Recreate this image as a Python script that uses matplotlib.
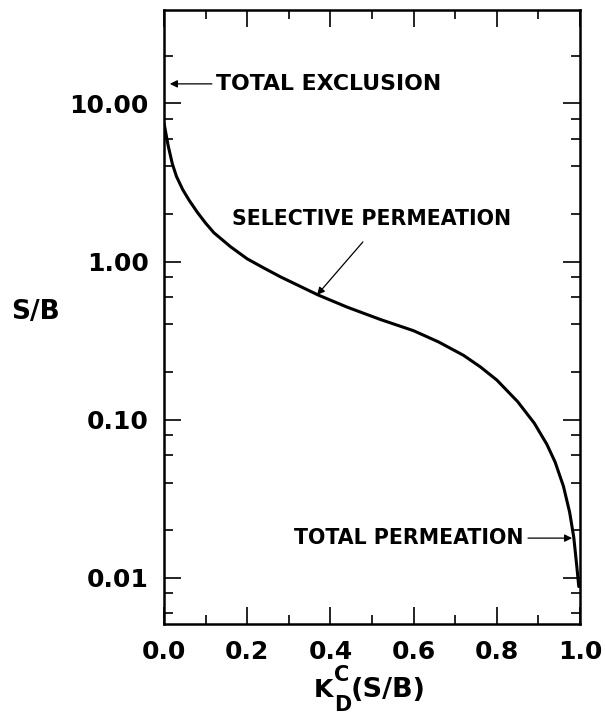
import matplotlib
matplotlib.use("Agg")
import matplotlib.pyplot as plt
from matplotlib.ticker import FixedLocator, FixedFormatter, NullFormatter

# ---- data ----
kd = [0.0, 0.01, 0.02, 0.03, 0.045, 0.06, 0.08, 0.10, 0.12, 0.16, 0.20,
      0.24, 0.28, 0.37, 0.44, 0.52, 0.60, 0.66, 0.72, 0.76, 0.80, 0.85,
      0.89, 0.92, 0.94, 0.96, 0.975, 0.985, 0.992, 0.997]
sb = [7.5, 5.4, 4.15, 3.45, 2.85, 2.45, 2.05, 1.75, 1.52, 1.24, 1.04,
      0.91, 0.80, 0.615, 0.515, 0.43, 0.365, 0.31, 0.255, 0.216, 0.178, 0.13,
      0.095, 0.070, 0.054, 0.038, 0.026, 0.018, 0.012, 0.0088]

x_major = [0.0, 0.2, 0.4, 0.6, 0.8, 1.0]
x_major_labels = ["0.0", "0.2", "0.4", "0.6", "0.8", "1.0"]
x_minor = [0.1, 0.3, 0.5, 0.7, 0.9]
y_major = [0.01, 0.1, 1.0, 10.0]
y_major_labels = ["0.01", "0.10", "1.00", "10.00"]
y_minor = [0.006, 0.008, 0.02, 0.04, 0.06, 0.08, 0.2, 0.4, 0.6, 0.8,
           2, 4, 6, 8, 20]

ann_texts = ["TOTAL EXCLUSION", "SELECTIVE PERMEATION", "TOTAL PERMEATION"]
ann_text_xy = [(0.125, 13.3), (0.163, 1.86), (0.865, 0.0178)]
ann_tail_xy = [(0.115, 13.3), (0.478, 1.33), (0.875, 0.0178)]
ann_tip_xy = [(0.014, 13.3), (0.368, 0.615), (0.981, 0.0178)]
ann_ha = ["left", "left", "right"]
ann_size = [15.8, 14.8, 14.8]

plt.rcParams['font.family'] = ['DejaVu Sans']

W, H = 605, 715
fig = plt.figure(figsize=(W / 100, H / 100), dpi=100)
ax = fig.add_axes([0.2711, 0.1268, 0.6876, 0.8592])

ax.plot(kd, sb, color="black", lw=2.2, solid_capstyle="round",
        solid_joinstyle="round")

ax.set_yscale("log")
ax.set_xlim(0, 1.0)
ax.set_ylim(0.00507, 39)

ax.xaxis.set_major_locator(FixedLocator(x_major))
ax.xaxis.set_major_formatter(FixedFormatter(x_major_labels))
ax.xaxis.set_minor_locator(FixedLocator(x_minor))
ax.xaxis.set_minor_formatter(NullFormatter())
ax.yaxis.set_major_locator(FixedLocator(y_major))
ax.yaxis.set_major_formatter(FixedFormatter(y_major_labels))
ax.yaxis.set_minor_locator(FixedLocator(y_minor))
ax.yaxis.set_minor_formatter(NullFormatter())

ax.tick_params(which="both", direction="in", top=True, right=True,
               width=1.2, color="black")
ax.tick_params(which="major", length=12, pad=11, labelsize=18)
ax.tick_params(which="minor", length=6.5)
for lab in ax.get_xticklabels() + ax.get_yticklabels():
    lab.set_fontweight("bold")

for s in ax.spines.values():
    s.set_linewidth(1.8)

ax.set_ylabel("S/B", rotation=0, fontsize=19, fontweight="bold",
              ha="center", va="center")
ax.yaxis.set_label_coords(-0.309, 0.508)

# x label K_D^C(S/B) built from pieces (sub/superscript nearly full size)
def ftext(px, py, s, size, **kw):
    fig.text(px / W, 1 - py / H, s, fontsize=size, fontweight="bold",
             va="baseline", ha="left", **kw)

ftext(314, 697, "K", 18)
ftext(334, 681, "C", 15)
ftext(334, 711, "D", 15)
ftext(351, 697, "(S/B)", 19.5)

for text, pos, tail, tip, ha, size in zip(ann_texts, ann_text_xy, ann_tail_xy,
                                         ann_tip_xy, ann_ha, ann_size):
    ax.text(pos[0], pos[1], text, ha=ha, va="center", fontsize=size,
            fontweight="bold")
    ax.annotate("", xy=tip, xytext=tail,
                arrowprops=dict(arrowstyle="-|>", lw=0.9, color="black",
                                mutation_scale=11, shrinkA=0, shrinkB=0))

fig.savefig("out.png", dpi=100)
